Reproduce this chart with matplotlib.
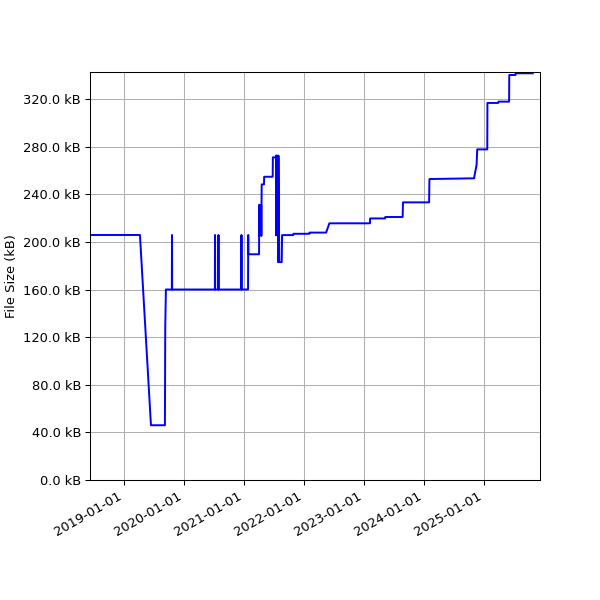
import numpy as np
import pandas as pd
import matplotlib
matplotlib.use('Agg')
import matplotlib.pyplot as plt
import matplotlib.dates as mdates
from matplotlib.ticker import FuncFormatter

# commit dates and file sizes (kB)
dates = [
    '2018-06-08', '2019-04-08', '2019-06-14', '2019-09-07', '2019-09-09', '2019-09-13',
    '2019-10-19', '2019-10-20', '2019-10-21',
    '2020-07-07', '2020-07-08', '2020-07-09',
    '2020-07-28', '2020-07-29', '2020-07-30',
    '2020-12-15', '2020-12-16', '2020-12-17',
    '2021-01-25', '2021-01-26', '2021-01-27',
    '2021-04-02', '2021-04-03', '2021-04-04', '2021-04-05', '2021-04-15', '2021-04-16', '2021-04-17',
    '2021-04-18', '2021-05-02', '2021-05-03', '2021-06-24', '2021-06-25',
    '2021-07-12', '2021-07-14', '2021-07-15', '2021-07-17', '2021-07-25', '2021-07-27',
    '2021-07-29', '2021-08-03', '2021-08-18', '2021-08-20',
    '2021-10-27', '2021-10-28', '2022-02-02', '2022-02-03', '2022-05-15', '2022-06-04',
    '2023-02-06', '2023-02-07', '2023-05-09', '2023-05-10', '2023-08-24', '2023-08-26',
    '2024-02-01', '2024-02-03', '2024-11-01', '2024-11-06', '2024-11-16', '2024-11-20',
    '2025-01-20', '2025-01-21', '2025-03-28', '2025-03-29', '2025-06-02', '2025-06-03',
    '2025-07-11', '2025-07-12', '2025-10-24',
]
sizes = [
    205.8, 205.8, 46.0, 46.0, 128.0, 160.0,
    160.0, 205.8, 160.0,
    160.0, 205.8, 160.0,
    160.0, 205.8, 160.0,
    160.0, 205.8, 160.0,
    160.0, 205.8, 189.6,
    189.6, 231.0, 205.0, 231.0, 231.0, 205.0, 231.0,
    248.3, 248.3, 254.7, 254.7, 271.0,
    271.0, 272.4, 205.5, 272.4, 272.4, 183.0,
    272.4, 183.0, 183.0, 205.7,
    205.7, 206.8, 206.8, 207.8, 207.8, 215.6,
    215.6, 219.7, 219.7, 220.9, 220.9, 233.2,
    233.2, 252.8, 253.4, 257.6, 264.6, 277.7,
    277.7, 316.7, 316.7, 317.8, 317.8, 340.2,
    340.2, 341.6, 341.6,
]

df = pd.DataFrame({'date': pd.to_datetime(dates), 'size': sizes})

fig = plt.figure(figsize=(6.4, 6.4), dpi=93.75)
ax = fig.add_axes([0.15, 0.2, 0.75, 0.68])
ax.plot(df['date'], df['size'], color='blue', linewidth=1.5)
ax.set_ylabel('File Size (kB)')
ax.yaxis.set_major_formatter(FuncFormatter(lambda v, p: '%.1f kB' % v))
ax.set_yticks(np.arange(0, 321, 40))
ax.set_ylim(0, 342.7)
ax.set_xlim(pd.Timestamp('2018-06-08'), pd.Timestamp('2025-12-07'))
ax.xaxis.set_major_locator(mdates.YearLocator())
ax.xaxis.set_major_formatter(mdates.DateFormatter('%Y-%m-%d'))
ax.grid(True)
for lbl in ax.get_xticklabels():
    lbl.set_rotation(30)
    lbl.set_ha('right')
plt.savefig('out.png', dpi=93.75)
